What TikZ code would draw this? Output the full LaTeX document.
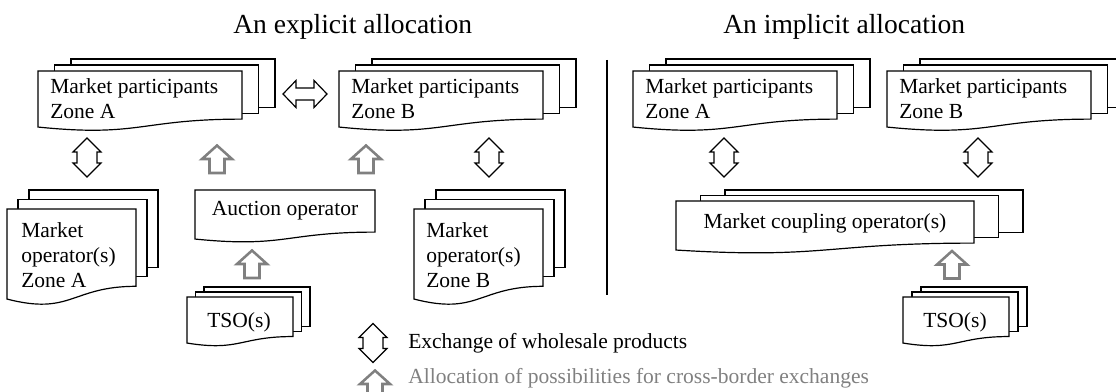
\documentclass[tikz,border=0pt]{standalone}
\usepackage{fontspec}
\setmainfont{Liberation Serif}
\usetikzlibrary{calc}
\definecolor{allocgray}{RGB}{128,128,128}
\newcommand{\boxfont}{\fontsize{15.3}{17.8}\selectfont}
\newcommand{\ttlfont}{\fontsize{19.6}{23}\selectfont}
% one sheet with a wavy bottom, top left (x,y), width:height
\def\docfront(#1,#2)(#3:#4){\draw[sheet] (#1,#2) -- ({#1+#3},#2) -- ({#1+#3},{#2+0.802*#4}) .. controls ({#1+0.5*#3},{#2+0.802*#4}) and ({#1+0.5*#3},{#2+1.1075*#4}) .. (#1,{#2+0.934*#4}) -- cycle;}
% three sheets, shifted by dx:dy
\def\docstack(#1,#2)(#3:#4)(#5:#6){%
  \draw[sheet] ({#1+2*#5},{#2-2*#6}) rectangle ++(#3,{0.802*#4});
  \draw[sheet] ({#1+#5},{#2-#6}) rectangle ++(#3,{0.802*#4});
  \docfront(#1,#2)(#3:#4)}
\def\exchv(#1){\draw[exch] (#1) ++(0,-19.5) -- ++(14,14) -- ++(-4,0) -- ++(0,11) -- ++(4,0) -- ++(-14,14) -- ++(-14,-14) -- ++(4,0) -- ++(0,-11) -- ++(-4,0) -- cycle;}
\def\exchh(#1){\draw[exch] (#1) ++(-22,0) -- ++(13,-13.5) -- ++(0,7.5) -- ++(18,0) -- ++(0,-7.5) -- ++(13,13.5) -- ++(-13,13.5) -- ++(0,-7.5) -- ++(-18,0) -- ++(0,7.5) -- cycle;}
\def\allocup(#1){\draw[alloc] (#1) ++(0,-13.5) -- ++(15,13.5) -- ++(-7.5,0) -- ++(0,14) -- ++(-15,0) -- ++(0,-14) -- ++(-7.5,0) -- cycle;}
\tikzset{
  sheet/.style={draw=black, fill=white, line width=0.85pt},
  exch/.style={draw=black, fill=white, line width=0.85pt, line join=miter},
  alloc/.style={draw=allocgray, fill=white, line width=1.8pt, line join=miter},
  lbl/.style={font=\boxfont, align=left, inner sep=0pt},
  ttl/.style={font=\ttlfont, inner sep=0pt}
}
\begin{document}
\begin{tikzpicture}[x=0.025cm, y=-0.025cm]
\useasboundingbox (0,0) rectangle (1116,392);

%%% explicit allocation
\node[ttl, anchor=base west] (ttlex) at (233,34) {An explicit allocation};
\docstack(38,71)(204:60)(16.5:6)
\docstack(339,71)(204:60)(16.5:6)
% base = last line
\node[lbl, anchor=base west] (mpa) at (50,119) {Market participants\\Zone A};
\node[lbl, anchor=base west] (mpb) at (351,119) {Market participants\\Zone B};
\exchh(305,94)

\docstack(7,209)(129:96.4)(11:9.5)
\docstack(414,209)(129:96.4)(11:9.5)
\node[lbl, anchor=base west] (moa) at (21,288) {Market\\operator(s)\\Zone A};
\node[lbl, anchor=base west] (mob) at (426,288) {Market\\operator(s)\\Zone B};

\docfront(195,190)(180:52.5)
\node[lbl, anchor=base] (auc) at (285,216) {Auction operator};
\docstack(187,297)(106:49.3)(8.5:5)
\node[lbl, anchor=base] (tsoex) at (239,328) {TSO(s)};

\exchv(87,157.5)
\exchv(489,157.5)
\allocup(217,159)
\allocup(366,159)
\allocup(252,264)

%%% separator
\draw[line width=1.4pt] (607,60) -- (607,295);

%%% implicit allocation
\node[ttl, anchor=base west] (ttlim) at (723,34) {An implicit allocation};
\docstack(633,71)(204:60)(16.5:6)
\docstack(887,71)(204:60)(16.5:6)
\node[lbl, anchor=base west] (mpa2) at (645,119) {Market participants\\Zone A};
\node[lbl, anchor=base west] (mpb2) at (899,119) {Market participants\\Zone B};

\docstack(676,201)(298:52.5)(24.5:5.5)
\node[lbl, anchor=base] (mco) at (825,229) {Market coupling operator(s)};
\docstack(903,297)(106:49.3)(9:5)
\node[lbl, anchor=base] (tsoim) at (955,328) {TSO(s)};

\exchv(724,157.5)
\exchv(978,157.5)
\allocup(952,264.5)

%%% legend
\exchv(373,343)
\node[lbl, anchor=base west] (lgex) at (408,348) {Exchange of wholesale products};
\allocup(375,384)
\node[lbl, anchor=base west, text=allocgray] (lgal) at (408,383) {Allocation of possibilities for cross-border exchanges};
\end{tikzpicture}
\end{document}
